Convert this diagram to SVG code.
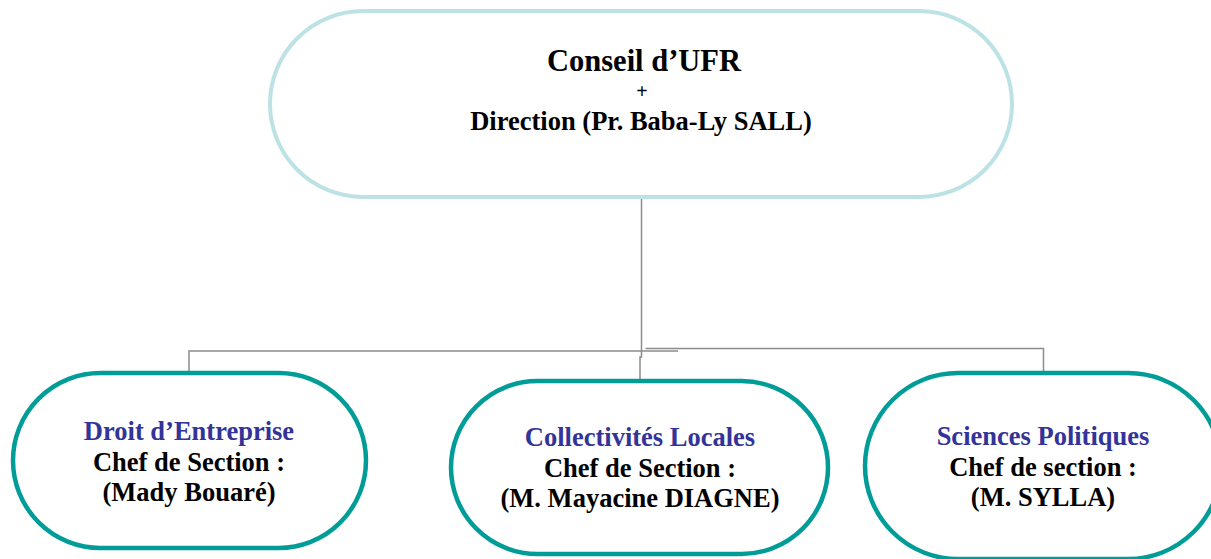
<svg xmlns="http://www.w3.org/2000/svg" width="1211" height="559" viewBox="0 0 1211 559">
<style>
.top{fill:#fff;stroke:#BDE2E5;stroke-width:4}
.sec{fill:#fff;stroke:#009C98;stroke-width:4.5}
.t{font-family:"Liberation Serif","Times New Roman",serif;font-weight:bold;text-anchor:middle;fill:#000}
.b{fill:#333399}
.c{fill:none;stroke:#8C8C8C;stroke-width:1.5}
</style>
<rect width="1211" height="559" fill="#fff"/>
<g id="connectors">
<path class="c" d="M641.5,199 V351"/>
<path class="c" d="M189,372 V351 H678"/>
<path class="c" d="M645.5,348.5 H1043.5 V372"/>
<path class="c" d="M641.5,351 V357 H640 V380"/>
</g>
<g id="node-top">
<rect class="top" x="270" y="11" width="742" height="186" rx="93"/>
<text class="t" x="644" y="71" font-size="30.5">Conseil d’UFR</text>
<text class="t" x="642" y="98" font-size="20" font-weight="normal">+</text>
<text class="t" x="641" y="130" font-size="26.5">Direction (Pr. Baba-Ly SALL)</text>
</g>
<g id="node-droit">
<rect class="sec" x="13" y="373" width="353" height="175" rx="87.5"/>
<text class="t" font-size="26.5" x="189"><tspan class="b" x="189" y="440">Droit d’Entreprise</tspan><tspan x="189" y="471">Chef de Section :</tspan><tspan x="189" y="501">(Mady Bouaré)</tspan></text>
</g>
<g id="node-collectivites">
<rect class="sec" x="451" y="381" width="377" height="173" rx="86.5"/>
<text class="t" font-size="26.5" x="640"><tspan class="b" x="640" y="446">Collectivités Locales</tspan><tspan x="640" y="477">Chef de Section :</tspan><tspan x="640" y="507">(M. Mayacine DIAGNE)</tspan></text>
</g>
<g id="node-sciences">
<rect class="sec" x="865" y="373" width="356" height="186" rx="93"/>
<text class="t" font-size="26.5" x="1043"><tspan class="b" x="1043" y="445">Sciences Politiques</tspan><tspan x="1043" y="476">Chef de section :</tspan><tspan x="1043" y="506">(M. SYLLA)</tspan></text>
</g>
</svg>
